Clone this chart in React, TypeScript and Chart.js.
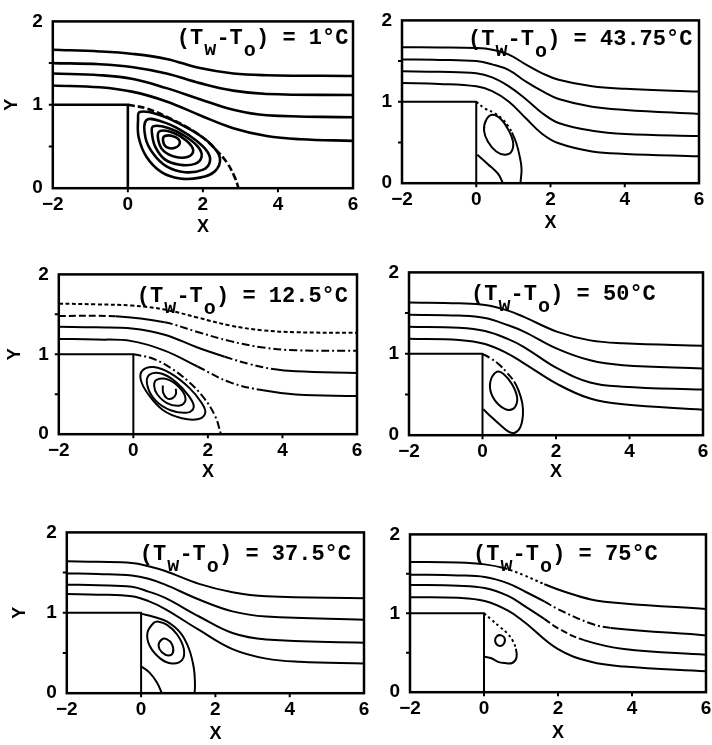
import React, { useEffect, useRef } from "react";
import { Chart, registerables } from "chart.js";

Chart.register(...registerables);

type Pt = [number, number];
type Dash = "solid" | "dash" | "dot" | "dashdot" | "fine";
type Curve = { pts: Pt[]; closed?: boolean; spans?: [number, Dash][] };

// ---- axes ----
const X_TICKS = [-2, 0, 2, 4, 6];
const Y_TICKS = [0, 1, 2];
const X_MARKS = [0, 2, 4];
const Y_MARKS = [0.5, 1, 1.5];

// backward-facing step outline
const STEP_WALL: Pt[] = [[-2, 1], [0, 1], [0, 0]];

// wall-to-inlet temperature difference for each panel
const TEMP_DIFFS = ["1", "43.75", "12.5", "50", "37.5", "75"];

// ---- (Tw - To) = 1 °C ----
const dt1Stream1: Pt[] = [[-2, 1.66], [-0.75, 1.64], [0.14, 1.61], [1.03, 1.55], [1.92, 1.44], [2.81, 1.375], [3.7, 1.355], [6, 1.345]];
const dt1Stream2: Pt[] = [[-2, 1.5], [-0.75, 1.486], [0.14, 1.45], [1.03, 1.375], [1.92, 1.26], [2.81, 1.17], [3.7, 1.13], [6, 1.117]];
const dt1Stream3: Pt[] = [[-2, 1.375], [-0.75, 1.355], [0.14, 1.31], [1.03, 1.2], [1.92, 1.067], [2.81, 0.94], [3.7, 0.875], [6, 0.85]];
const dt1Stream4: Pt[] = [[-2, 1.232], [-0.75, 1.21], [0.14, 1.155], [1.03, 1.04], [1.92, 0.875], [2.81, 0.72], [3.7, 0.626], [4.6, 0.587], [6, 0.568]];
const dt1Divider: Pt[] = [[0, 1], [0.5, 0.955], [1.2, 0.82], [1.9, 0.64], [2.35, 0.46], [2.65, 0.3], [2.85, 0.13], [2.95, 0]];
const dt1Eddy1: Pt[] = [[0.317, 0.914], [0.807, 0.883], [1.341, 0.78], [1.876, 0.645], [2.25, 0.511], [2.455, 0.357], [2.321, 0.204], [1.92, 0.127], [1.386, 0.116], [0.896, 0.192], [0.495, 0.377], [0.29, 0.607], [0.272, 0.818]];
const dt1Eddy2: Pt[] = [[0.495, 0.818], [0.896, 0.799], [1.386, 0.703], [1.83, 0.568], [2.125, 0.434], [2.187, 0.319], [2.009, 0.223], [1.519, 0.192], [1.03, 0.261], [0.673, 0.415], [0.468, 0.607]];
const dt1Eddy3: Pt[] = [[0.673, 0.741], [1.074, 0.722], [1.519, 0.626], [1.876, 0.492], [1.965, 0.377], [1.787, 0.292], [1.386, 0.281], [0.985, 0.346], [0.735, 0.492], [0.646, 0.645]];
const dt1Eddy4: Pt[] = [[0.851, 0.684], [1.208, 0.664], [1.564, 0.568], [1.742, 0.453], [1.608, 0.377], [1.252, 0.377], [0.94, 0.453], [0.807, 0.588]];
const dt1Eddy5: Pt[] = [[0.985, 0.626], [1.252, 0.615], [1.386, 0.549], [1.252, 0.484], [1.03, 0.492], [0.94, 0.561]];

// ---- (Tw - To) = 43.75 °C ----
const dt2Stream1: Pt[] = [[-2, 1.67], [-1, 1.668], [0, 1.66], [0.43, 1.64], [0.88, 1.58], [1.33, 1.46], [1.78, 1.35], [2.22, 1.27], [3.12, 1.19], [4.02, 1.16], [6, 1.125]];
const dt2Stream2: Pt[] = [[-2, 1.52], [-1, 1.515], [0, 1.5], [0.43, 1.46], [0.88, 1.39], [1.33, 1.25], [1.78, 1.13], [2.22, 1.035], [3.12, 0.94], [4.02, 0.9], [6, 0.85]];
const dt2Stream3: Pt[] = [[-2, 1.375], [-1, 1.368], [0, 1.35], [0.43, 1.3], [0.88, 1.19], [1.33, 1.035], [1.78, 0.86], [2.22, 0.74], [3.12, 0.645], [4.02, 0.605], [6, 0.58]];
const dt2Stream4: Pt[] = [[-2, 1.23], [-1, 1.22], [0, 1.19], [0.43, 1.13], [0.88, 1.0], [1.33, 0.8], [1.78, 0.605], [2.22, 0.49], [3.12, 0.39], [4.02, 0.36], [6, 0.33]];
const dt2Divider: Pt[] = [[0, 1], [0.225, 0.92], [0.5, 0.86], [0.72, 0.78], [0.86, 0.7], [0.96, 0.625], [1.08, 0.49], [1.17, 0.33], [1.22, 0.176], [1.19, 0]];
const dt2Eddy: Pt[] = [[0.45, 0.84], [0.27, 0.78], [0.21, 0.645], [0.315, 0.51], [0.54, 0.39], [0.77, 0.35], [0.95, 0.39], [0.99, 0.51], [0.86, 0.66], [0.68, 0.78]];
const dt2CornerEddy: Pt[] = [[0.03, 0.35], [0.315, 0.234], [0.585, 0.117], [0.72, 0]];

// ---- (Tw - To) = 12.5 °C ----
const dt3Stream1: Pt[] = [[-2, 1.634], [-1, 1.625], [-0.04, 1.61], [0.84, 1.56], [1.72, 1.46], [2.6, 1.36], [3.48, 1.3], [4.36, 1.276], [6, 1.27]];
const dt3Stream2: Pt[] = [[-2, 1.48], [-0.48, 1.475], [0.84, 1.4], [1.72, 1.28], [2.6, 1.165], [3.48, 1.085], [4.36, 1.05], [6, 1.045]];
const dt3Stream3: Pt[] = [[-2, 1.344], [-1, 1.338], [-0.04, 1.324], [0.84, 1.245], [1.72, 1.085], [2.45, 0.97], [3.1, 0.88], [3.75, 0.815], [4.36, 0.787], [6, 0.767]];
const dt3Stream4: Pt[] = [[-2, 1.193], [-1, 1.185], [-0.04, 1.165], [0.84, 1.046], [1.72, 0.847], [2.6, 0.648], [3.48, 0.549], [4.36, 0.497], [6, 0.477]];
const dt3Divider: Pt[] = [[0, 1], [0.5, 0.95], [1.0, 0.83], [1.5, 0.65], [1.9, 0.45], [2.2, 0.22], [2.35, 0]];
const dt3Eddy1: Pt[] = [[0.25, 0.8], [0.55, 0.84], [1.0, 0.76], [1.5, 0.58], [1.82, 0.4], [1.93, 0.27], [1.75, 0.19], [1.3, 0.2], [0.8, 0.3], [0.4, 0.5], [0.2, 0.68]];
const dt3Eddy2: Pt[] = [[0.42, 0.74], [0.75, 0.76], [1.15, 0.65], [1.5, 0.47], [1.62, 0.34], [1.45, 0.27], [1.0, 0.3], [0.6, 0.42], [0.38, 0.6]];
const dt3Eddy3: Pt[] = [[0.62, 0.68], [0.95, 0.68], [1.28, 0.56], [1.4, 0.43], [1.25, 0.36], [0.9, 0.39], [0.64, 0.5], [0.56, 0.6]];
const dt3Eddy4: Pt[] = [[0.79, 0.61], [0.8, 0.52], [0.9, 0.45], [1.05, 0.45], [1.14, 0.5], [1.14, 0.57]];

// ---- (Tw - To) = 50 °C ----
const dt4Stream1: Pt[] = [[-2, 1.63], [-0.64, 1.62], [0.07, 1.6], [0.7, 1.53], [1.14, 1.45], [2.04, 1.27], [2.93, 1.165], [3.82, 1.13], [6, 1.1]];
const dt4Stream2: Pt[] = [[-2, 1.48], [-0.64, 1.47], [0.07, 1.44], [0.7, 1.35], [1.14, 1.27], [2.04, 1.06], [2.93, 0.92], [3.82, 0.86], [6, 0.82]];
const dt4Stream3: Pt[] = [[-2, 1.333], [-0.64, 1.32], [0.07, 1.28], [0.7, 1.18], [1.14, 1.08], [2.04, 0.82], [2.93, 0.647], [3.82, 0.596], [6, 0.56]];
const dt4Stream4: Pt[] = [[-2, 1.184], [-0.64, 1.17], [0.07, 1.12], [0.7, 1.0], [1.14, 0.88], [2.04, 0.627], [2.93, 0.45], [3.82, 0.38], [6, 0.314]];
const dt4Divider: Pt[] = [[0, 1], [0.2, 0.95], [0.45, 0.87], [0.68, 0.76], [0.86, 0.66], [0.98, 0.55], [1.08, 0.4], [1.1, 0.25], [1.03, 0.1], [0.88, 0.03], [0.72, 0.04], [0.5, 0.12], [0.25, 0.22], [0.02, 0.32]];
const dt4Eddy: Pt[] = [[0.4, 0.78], [0.22, 0.67], [0.24, 0.51], [0.45, 0.37], [0.71, 0.31], [0.89, 0.35], [0.94, 0.47], [0.8, 0.63], [0.58, 0.75]];

// ---- (Tw - To) = 37.5 °C ----
const dt5Stream1: Pt[] = [[-2, 1.64], [-1.16, 1.634], [-0.25, 1.62], [0.2, 1.58], [0.65, 1.52], [1.56, 1.36], [2.46, 1.256], [3.37, 1.205], [6, 1.18]];
const dt5Stream2: Pt[] = [[-2, 1.49], [-1.16, 1.482], [-0.25, 1.463], [0.2, 1.423], [0.65, 1.35], [1.56, 1.165], [2.46, 1.018], [3.37, 0.954], [6, 0.915]];
const dt5Stream3: Pt[] = [[-2, 1.35], [-1.16, 1.343], [-0.25, 1.324], [0.2, 1.264], [0.65, 1.185], [1.56, 0.954], [2.46, 0.748], [3.37, 0.668], [6, 0.628]];
const dt5Stream4: Pt[] = [[-2, 1.233], [-1.16, 1.226], [-0.25, 1.205], [0.2, 1.145], [0.65, 1.046], [1.56, 0.787], [2.46, 0.549], [3.37, 0.43], [4.27, 0.39], [6, 0.37]];
const dt5Divider: Pt[] = [[0, 0.99], [0.33, 0.95], [0.7, 0.89], [1.06, 0.75], [1.29, 0.55], [1.42, 0.31], [1.45, 0.11], [1.44, 0]];
const dt5Eddy1: Pt[] = [[0.56, 0.67], [0.47, 0.59], [0.56, 0.51], [0.74, 0.47], [0.86, 0.51], [0.83, 0.61], [0.7, 0.67]];
const dt5Eddy2: Pt[] = [[0.33, 0.87], [0.17, 0.75], [0.23, 0.59], [0.52, 0.43], [0.83, 0.37], [1.1, 0.41], [1.15, 0.55], [0.97, 0.73], [0.7, 0.85], [0.47, 0.89]];
const dt5CornerEddy: Pt[] = [[0.02, 0.33], [0.24, 0.25], [0.43, 0.13], [0.56, 0]];

// ---- (Tw - To) = 75 °C ----
const dt6Stream1: Pt[] = [[-2, 1.65], [-0.7, 1.643], [0.02, 1.62], [0.56, 1.57], [1.09, 1.48], [1.63, 1.37], [2.2, 1.27], [2.89, 1.176], [3.78, 1.124], [6, 1.055]];
const dt6Stream2: Pt[] = [[-2, 1.49], [-0.7, 1.48], [0.02, 1.46], [0.65, 1.38], [1.09, 1.28], [1.63, 1.15], [1.99, 1.055], [2.89, 0.87], [3.43, 0.815], [6, 0.72]];
const dt6Stream3: Pt[] = [[-2, 1.36], [-0.7, 1.35], [0.02, 1.32], [0.65, 1.22], [1.09, 1.095], [1.63, 0.93], [2.0, 0.81], [2.7, 0.66], [3.78, 0.548], [6, 0.475]];
const dt6Stream4: Pt[] = [[-2, 1.205], [-0.7, 1.197], [0.02, 1.156], [0.65, 1.034], [1.09, 0.89], [1.99, 0.548], [2.89, 0.385], [3.78, 0.325], [6, 0.264]];
const dt6Divider: Pt[] = [[0, 1], [0.2, 0.92], [0.42, 0.83], [0.62, 0.75], [0.78, 0.65], [0.86, 0.55], [0.88, 0.44], [0.76, 0.37], [0.55, 0.37], [0.38, 0.385], [0.2, 0.43], [0.02, 0.45]];
const dt6Eddy: Pt[] = [[0.35, 0.71], [0.3, 0.65], [0.39, 0.59], [0.53, 0.61], [0.56, 0.68], [0.47, 0.72]];

const DASH_PATTERNS: Record<Dash, number[]> = {
  solid: [],
  dash: [7, 3],
  dot: [2.5, 3],
  dashdot: [8, 3, 2, 3],
  fine: [4, 2.5],
};

const PANELS: { temp: string; lineWidth: number; curves: Curve[] }[] = [
  {
    temp: TEMP_DIFFS[0],
    lineWidth: 2.6,
    curves: [
      { pts: dt1Stream1 }, { pts: dt1Stream2 }, { pts: dt1Stream3 }, { pts: dt1Stream4 },
      { pts: dt1Divider, spans: [[0, "dash"]] },
      { pts: dt1Eddy1, closed: true }, { pts: dt1Eddy2, closed: true }, { pts: dt1Eddy3, closed: true },
      { pts: dt1Eddy4, closed: true }, { pts: dt1Eddy5, closed: true },
    ],
  },
  {
    temp: TEMP_DIFFS[1],
    lineWidth: 2,
    curves: [
      { pts: dt2Stream1 }, { pts: dt2Stream2 }, { pts: dt2Stream3 }, { pts: dt2Stream4 },
      { pts: dt2Divider, spans: [[0, "dot"], [5, "solid"]] },
      { pts: dt2Eddy, closed: true }, { pts: dt2CornerEddy },
    ],
  },
  {
    temp: TEMP_DIFFS[2],
    lineWidth: 2,
    curves: [
      { pts: dt3Stream1, spans: [[0, "fine"]] },
      { pts: dt3Stream2, spans: [[0, "dash"], [1, "solid"], [2, "dashdot"]] },
      { pts: dt3Stream3, spans: [[0, "solid"], [5, "dashdot"], [7, "solid"]] },
      { pts: dt3Stream4, spans: [[0, "solid"], [4, "dashdot"], [6, "solid"]] },
      { pts: dt3Divider, spans: [[0, "dashdot"]] },
      { pts: dt3Eddy1, closed: true }, { pts: dt3Eddy2, closed: true }, { pts: dt3Eddy3, closed: true },
      { pts: dt3Eddy4 },
    ],
  },
  {
    temp: TEMP_DIFFS[3],
    lineWidth: 2,
    curves: [
      { pts: dt4Stream1 }, { pts: dt4Stream2 }, { pts: dt4Stream3 }, { pts: dt4Stream4 },
      { pts: dt4Divider, spans: [[0, "dashdot"], [4, "solid"]] },
      { pts: dt4Eddy, closed: true },
    ],
  },
  {
    temp: TEMP_DIFFS[4],
    lineWidth: 2,
    curves: [
      { pts: dt5Stream1 }, { pts: dt5Stream2 }, { pts: dt5Stream3 }, { pts: dt5Stream4 },
      { pts: dt5Divider },
      { pts: dt5Eddy1, closed: true }, { pts: dt5Eddy2, closed: true }, { pts: dt5CornerEddy },
    ],
  },
  {
    temp: TEMP_DIFFS[5],
    lineWidth: 2,
    curves: [
      { pts: dt6Stream1, spans: [[0, "solid"], [3, "dot"], [5, "solid"]] },
      { pts: dt6Stream2, spans: [[0, "solid"], [5, "dashdot"], [8, "solid"]] },
      { pts: dt6Stream3, spans: [[0, "solid"], [5, "dash"], [7, "solid"]] },
      { pts: dt6Stream4 },
      { pts: dt6Divider, spans: [[0, "dot"], [5, "solid"]] },
      { pts: dt6Eddy, closed: true },
    ],
  },
];

// plot-area rectangles on the page [left, top, right, bottom] and label placement
const LAYOUT: { rect: number[]; xTitleGap: number; yTitleX: number | null; text: number[] }[] = [
  { rect: [53, 14, 353, 188], xTitleGap: 39, yTitleX: 12, text: [124, 23] },
  { rect: [402, 13, 699, 183], xTitleGap: 40, yTitleX: null, text: [66, 25] },
  { rect: [59, 267, 357, 434], xTitleGap: 38, yTitleX: 15, text: [78, 28] },
  { rect: [409, 265, 703, 435], xTitleGap: 37, yTitleX: null, text: [62, 28] },
  { rect: [67, 525, 364, 693], xTitleGap: 41, yTitleX: 20, text: [73, 28] },
  { rect: [410, 527, 706, 692], xTitleGap: 41, yTitleX: null, text: [63, 26] },
];

const PAD_T = 14;
const PAD_R = 12;
const SANS = "'Liberation Sans', Arial, sans-serif";
const MONO = "'Liberation Mono', 'DejaVu Sans Mono', monospace";
const tickFont = { family: SANS, size: 19, weight: "bold" as const };
const titleFont = { family: SANS, size: 18, weight: "bold" as const };

function dashFor(c: Curve, idx: number): number[] {
  if (!c.spans) return [];
  let style: Dash = "solid";
  for (const [start, s] of c.spans) if (idx >= start) style = s;
  return DASH_PATTERNS[style];
}

function buildDataset(c: Curve, width: number, tension: number) {
  const n = c.pts.length;
  // closed loops wrap around so every visible piece gets smooth tangents
  const src = c.closed ? [c.pts[n - 1], ...c.pts, c.pts[0], c.pts[1]] : c.pts;
  return {
    data: src.map(([x, y]) => ({ x, y })),
    showLine: true,
    fill: false,
    borderColor: "#000",
    borderWidth: width,
    borderJoinStyle: "round" as const,
    pointRadius: 0,
    pointHoverRadius: 0,
    tension,
    segment: {
      borderColor: (ctx: any) =>
        c.closed && (ctx.p0DataIndex === 0 || ctx.p0DataIndex === n + 1) ? "rgba(0,0,0,0)" : "#000",
      borderDash: (ctx: any) => (c.closed ? [] : dashFor(c, ctx.p0DataIndex)),
    },
  };
}

function fmtTick(v: number | string) {
  const n = Number(v);
  return n < 0 ? "\u2212" + Math.abs(n) : String(n);
}

function Panel({ index }: { index: number }) {
  const ref = useRef<HTMLCanvasElement>(null);
  const spec = PANELS[index];
  const box = LAYOUT[index];
  const [L, T, R, B] = box.rect;
  const hasY = box.yTitleX !== null;
  const axw = hasY ? L - (box.yTitleX as number) + titleFont.size * 0.6 : 45;
  const axh = box.xTitleGap + titleFont.size * 0.6;
  const W = Math.round(axw + (R - L) + PAD_R);
  const H = Math.round(PAD_T + (B - T) + axh);

  useEffect(() => {
    const canvas = ref.current;
    if (!canvas) return;

    const decor = {
      id: "panelDecor",
      afterDraw(chart: any) {
        const { ctx, chartArea: a, scales } = chart;
        ctx.save();
        ctx.strokeStyle = "#000";
        ctx.lineWidth = 2.5;
        ctx.strokeRect(a.left, a.top, a.right - a.left, a.bottom - a.top);
        ctx.lineWidth = 2;
        ctx.beginPath();
        for (const v of X_MARKS) {
          const px = scales.x.getPixelForValue(v);
          ctx.moveTo(px, a.bottom);
          ctx.lineTo(px, a.bottom + 4);
        }
        for (const v of Y_MARKS) {
          const py = scales.y.getPixelForValue(v);
          ctx.moveTo(a.left, py);
          ctx.lineTo(a.left - 4, py);
        }
        ctx.stroke();

        // (Tw - To) = ... label, monospaced cells
        const cw = 13.2;
        const x0 = a.left + box.text[0];
        const yb = a.top + box.text[1];
        ctx.fillStyle = "#000";
        ctx.textAlign = "left";
        ctx.textBaseline = "alphabetic";
        ctx.font = `bold 22px ${MONO}`;
        ctx.fillText("(T", x0, yb);
        ctx.fillText("-T", x0 + 3 * cw, yb);
        ctx.fillText(`) = ${spec.temp}\u00B0C`, x0 + 6 * cw, yb);
        ctx.font = `bold 20px ${MONO}`;
        ctx.fillText("w", x0 + 2 * cw + 1, yb + 11);
        ctx.fillText("o", x0 + 5 * cw + 1, yb + 12);
        ctx.restore();
      },
    };

    const datasets = [
      buildDataset({ pts: STEP_WALL }, spec.lineWidth, 0),
      ...spec.curves.map((c) => buildDataset(c, spec.lineWidth, 0.4)),
    ];

    const chart = new Chart(canvas, {
      type: "scatter",
      data: { datasets: datasets as any },
      options: {
        animation: false,
        responsive: false,
        devicePixelRatio: 1,
        events: [],
        layout: { padding: { left: 0, top: PAD_T, right: PAD_R, bottom: 0 }, autoPadding: false },
        plugins: { legend: { display: false }, tooltip: { enabled: false } },
        scales: {
          x: {
            type: "linear",
            position: "bottom",
            min: -2,
            max: 6,
            afterBuildTicks: (s: any) => {
              s.ticks = X_TICKS.map((value) => ({ value }));
            },
            afterFit: (s: any) => {
              s.height = axh;
            },
            ticks: { font: tickFont, color: "#000", padding: 5, autoSkip: false, maxRotation: 0, callback: fmtTick },
            grid: { display: false, drawTicks: false },
            border: { display: false },
            title: { display: true, text: "X", font: titleFont, color: "#000", padding: 0 },
          },
          y: {
            type: "linear",
            position: "left",
            min: 0,
            max: 2,
            afterBuildTicks: (s: any) => {
              s.ticks = Y_TICKS.map((value) => ({ value }));
            },
            afterFit: (s: any) => {
              s.width = axw;
            },
            ticks: { font: tickFont, color: "#000", padding: 10, autoSkip: false, callback: fmtTick },
            grid: { display: false, drawTicks: false },
            border: { display: false },
            title: { display: hasY, text: "Y", font: titleFont, color: "#000", padding: 0 },
          },
        },
      } as any,
      plugins: [decor],
    });
    return () => chart.destroy();
  }, []);

  return (
    <canvas
      ref={ref}
      width={W}
      height={H}
      style={{ position: "absolute", left: Math.round(L - axw), top: T - PAD_T, width: W, height: H }}
    />
  );
}

export default function App() {
  return (
    <div style={{ position: "absolute", left: 0, top: 0, width: 712, height: 745, background: "#fff" }}>
      {PANELS.map((_, i) => (
        <Panel key={i} index={i} />
      ))}
    </div>
  );
}
